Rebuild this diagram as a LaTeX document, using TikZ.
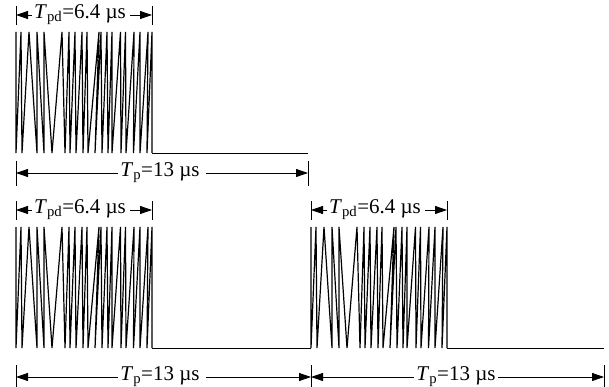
\documentclass[tikz,border=0pt]{standalone}
\usepackage{fontspec}
\setmainfont{Liberation Serif}
\usepackage{tikz}
\usetikzlibrary{positioning, arrows.meta, calc}

\tikzset{
	chirp pulse/.pic={
		% zigzag of one pulse, from its top left corner
		\draw[chirp] (0,0) -- (0,121) -- (5,0) -- (6,121) -- (13,0) -- (21,121) -- (21,0) -- (28,121) -- (28,0) -- (36,121)
		-- (46,0) -- (49,121) -- (53,0) -- (54,121) -- (59,0) -- (60,121) -- (66,0) -- (67,121) -- (71,0) -- (72,121)
		-- (83,0) -- (79,121) -- (85,0) -- (86,121) -- (91,0) -- (92,121) -- (96,0) -- (96,121) -- (104.5,0) -- (105,121)
		-- (109.5,0) -- (110,121) -- (118,0) -- (117.5,121) -- (124,0) -- (124,121) -- (132,0) -- (131,121) -- (136,0) -- (136,121);
		\coordinate (-start) at (0,121);
		\coordinate (-end) at (136,121);
	}
}

\begin{document}
\begin{tikzpicture}[
	x=1pt, y=-1pt,
	chirp/.style={line width=1.2pt, line join=bevel},
	groundline/.style={line width=0.9pt},
	dimtick/.style={line width=0.8pt},
	dimarrow/.style={-{Triangle[length=12pt, width=8pt]}, line width=0.8pt},
	dimlabel/.style={font=\fontsize{21}{21}\selectfont, inner sep=1pt}
	]
	\useasboundingbox (0,0) rectangle (609,387);
	
	% --- TOP ROW: one pulse ---
	\pic (pa) at (16,32) {chirp pulse};
	\coordinate (ga) at (308,153);
	\draw[groundline] (pa-end) -- (ga);
	
	% pulse width
	\coordinate (wa-l) at (16,15);
	\coordinate (wa-r) at (152,15);
	\node[dimlabel] (wa) at (80,15) {\textit{T}\textsubscript{pd}=6.4 µs};
	\draw[dimtick] (16,6) -- (16,25) (152,6) -- (152,25);
	\draw[dimarrow] ([xshift=-1pt]wa.west) -- (wa-l);
	\draw[dimarrow] ([xshift=3pt]wa.east) -- (wa-r);
	
	% period
	\coordinate (ta-l) at (16,173);
	\coordinate (ta-r) at (308,173);
	\node[dimlabel] (ta) at (160,173) {\textit{T}\textsubscript{p}=13 µs};
	\draw[dimtick] (16,161) -- (16,186) (308,161) -- (308,186);
	\draw[dimarrow] ([xshift=-1pt]ta.west) -- (ta-l);
	\draw[dimarrow] ([xshift=5pt]ta.east) -- (ta-r);
	
	% --- BOTTOM ROW: two pulses ---
	\pic (pb) at (16,227) {chirp pulse};
	\pic (pc) at (311,227) {chirp pulse};
	\coordinate (gc) at (604,348);
	\draw[groundline] (pb-end) -- (pc-start);
	\draw[groundline] (pc-end) -- (gc);
	
	% pulse widths
	\coordinate (wb-l) at (16,210);
	\coordinate (wb-r) at (152,210);
	\node[dimlabel] (wb) at (80,210) {\textit{T}\textsubscript{pd}=6.4 µs};
	\draw[dimtick] (16,201) -- (16,220) (152,201) -- (152,220);
	\draw[dimarrow] ([xshift=-1pt]wb.west) -- (wb-l);
	\draw[dimarrow] ([xshift=3pt]wb.east) -- (wb-r);
	
	\coordinate (wc-l) at (311,210);
	\coordinate (wc-r) at (447,210);
	\node[dimlabel] (wc) at (375,210) {\textit{T}\textsubscript{pd}=6.4 µs};
	\draw[dimtick] (311,201) -- (311,220) (447,201) -- (447,220);
	\draw[dimarrow] ([xshift=-1pt]wc.west) -- (wc-l);
	\draw[dimarrow] ([xshift=3pt]wc.east) -- (wc-r);
	
	% periods
	\coordinate (tb-l) at (16,377);
	\coordinate (tb-r) at (311,377);
	\node[dimlabel] (tb) at (160,377) {\textit{T}\textsubscript{p}=13 µs};
	\draw[dimtick] (16,365) -- (16,387) (311,365) -- (311,387);
	\draw[dimarrow] ([xshift=-1pt]tb.west) -- (tb-l);
	\draw[dimarrow] ([xshift=5pt]tb.east) -- (tb-r);
	
	\coordinate (tc-l) at (311,377);
	\coordinate (tc-r) at (604,377);
	\node[dimlabel] (tc) at (456,377) {\textit{T}\textsubscript{p}=13 µs};
	\draw[dimtick] (604,365) -- (604,387);
	\draw[dimarrow] ([xshift=-1pt]tc.west) -- (tc-l);
	\draw[dimarrow] ([xshift=1pt]tc.east) -- (tc-r);
\end{tikzpicture}
\end{document}
